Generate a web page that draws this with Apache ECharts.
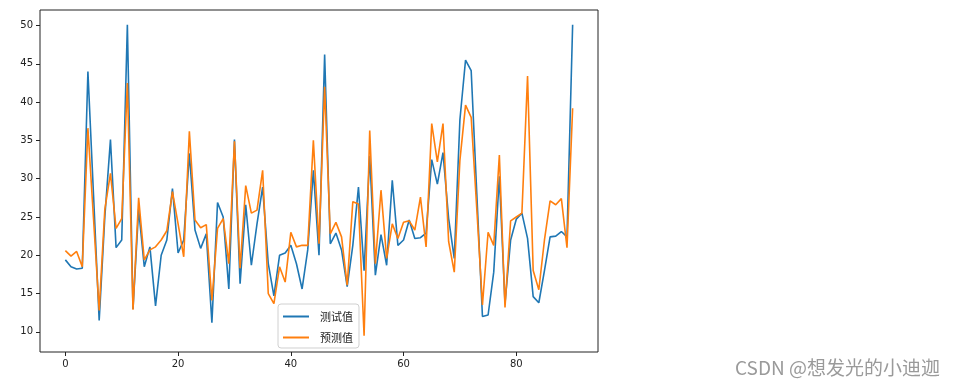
<!DOCTYPE html>
<html><head><meta charset="utf-8">
<script src="https://cdn.jsdelivr.net/npm/echarts@6/dist/echarts.min.js"></script>
<style>html,body{margin:0;padding:0;background:#fff}#c{width:961px;height:386px}</style>
</head><body><div id="c"></div>
<script>
const seriesNames = ['测试值', '预测值'];
const actual = [19.4,18.5,18.2,18.3,44.0,27.8,11.5,25.0,35.1,21.0,22.0,50.1,13.0,26.0,18.5,21.1,13.4,20.0,22.0,28.7,20.3,22.0,33.3,23.3,20.9,22.8,11.2,26.9,25.0,15.6,35.1,16.3,26.6,18.7,24.1,28.9,18.9,14.7,20.0,20.3,21.3,18.9,15.6,20.7,31.1,20.0,46.2,21.5,22.9,20.7,15.9,21.3,28.9,18.0,33.0,17.4,22.7,18.7,29.8,21.3,22.0,24.6,22.2,22.3,22.9,32.5,29.3,33.4,24.8,19.6,37.7,45.5,44.1,28.0,12.0,12.2,17.8,30.3,13.7,22.0,24.7,25.5,22.2,14.6,13.8,18.0,22.4,22.5,23.1,22.4,50.1];
const predicted = [20.6,19.9,20.5,18.5,36.6,24.7,12.8,26.0,30.7,23.5,24.8,42.5,12.9,27.5,19.4,20.7,21.1,22.0,23.2,28.3,24.1,19.8,36.2,24.6,23.6,24.0,14.1,23.5,24.8,18.9,34.9,18.3,29.1,25.5,25.9,31.1,15.0,13.7,18.5,16.5,23.0,21.1,21.3,21.3,35.0,21.5,42.0,22.8,24.3,22.4,16.1,27.0,26.7,9.5,36.3,18.9,28.5,19.6,24.1,22.2,24.3,24.5,23.3,27.6,21.1,37.2,32.2,37.2,21.8,17.8,32.4,39.6,38.0,26.0,13.5,23.0,21.3,33.1,13.2,24.5,25.0,25.5,43.4,18.0,15.5,22.0,27.1,26.6,27.4,21.0,39.2];
const xTicks = [0, 20, 40, 60, 80];
const yTicks = [10, 15, 20, 25, 30, 35, 40, 45, 50];

const toPairs = arr => arr.map((v, i) => [i, v]);
const chart = echarts.init(document.getElementById('c'), null, {renderer: 'canvas'});
const axisTextStyle = {color: '#222', fontSize: 10, fontFamily: 'DejaVu Sans, sans-serif'};
chart.setOption({
  animation: false,
  backgroundColor: '#fff',
  grid: {left: 40, top: 10, width: 558, height: 342, show: true, borderColor: '#222', borderWidth: 1, backgroundColor: 'transparent'},
  xAxis: {
    type: 'value', min: -4.5, max: 94.5,
    axisLine: {show: false, onZero: false},
    splitLine: {show: false},
    axisTick: {show: true, length: 4, lineStyle: {color: '#222'}, customValues: xTicks},
    axisLabel: Object.assign({margin: 7, customValues: xTicks}, axisTextStyle)
  },
  yAxis: {
    type: 'value', min: 7.37, max: 52.03,
    axisLine: {show: false, onZero: false},
    splitLine: {show: false},
    axisTick: {show: true, length: 4, lineStyle: {color: '#222'}, customValues: yTicks},
    axisLabel: Object.assign({margin: 7, customValues: yTicks}, axisTextStyle)
  },
  legend: {
    orient: 'vertical', left: 278, top: 304,
    data: seriesNames,
    icon: 'rect', itemWidth: 26, itemHeight: 2, itemGap: 10,
    padding: [7, 6, 5, 5],
    borderColor: '#d0d0d0', borderWidth: 1, borderRadius: 3,
    backgroundColor: 'rgba(255,255,255,0.85)',
    textStyle: {fontSize: 11, color: '#222', fontFamily: 'Noto Sans CJK SC, sans-serif', padding: [0, 0, 0, 6]}
  },
  series: [
    {name: seriesNames[0], type: 'line', data: toPairs(actual), showSymbol: false, symbol: 'none', lineStyle: {color: '#1f77b4', width: 1.6}, itemStyle: {color: '#1f77b4'}, z: 2},
    {name: seriesNames[1], type: 'line', data: toPairs(predicted), showSymbol: false, symbol: 'none', lineStyle: {color: '#ff7f0e', width: 1.6}, itemStyle: {color: '#ff7f0e'}, z: 3}
  ],
  graphic: [{
    type: 'text', left: 735, top: 358,
    style: {text: 'CSDN @想发光的小迪迦', fontSize: 19, fill: '#9a9a9a', fontFamily: 'Noto Sans CJK SC, sans-serif'}
  }]
});
</script></body></html>
